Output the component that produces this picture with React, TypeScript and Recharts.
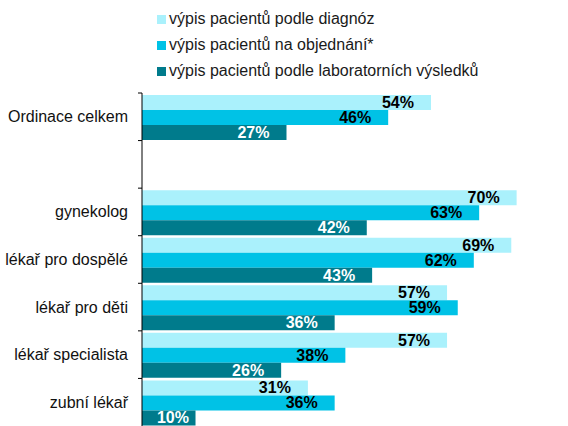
import React from 'react'
import { BarChart, Bar, XAxis, YAxis, Legend, LabelList } from 'recharts'

// categories (the empty one is the gap between "Ordinace celkem" and the specialties)
const categories = ['Ordinace celkem', '', 'gynekolog', 'lékař pro dospělé', 'lékař pro děti', 'lékař specialista', 'zubní lékař']
const podleDiagnoz = [54, null, 70, 69, 57, 57, 31]
const naObjednani = [46, null, 63, 62, 59, 38, 36]
const podleLaboratore = [27, null, 42, 43, 36, 26, 10]

const SERIES = [
  { key: 'diag', name: 'výpis pacientů podle diagnóz', color: '#aaf1fc', label: '#000' },
  { key: 'obj', name: 'výpis pacientů na objednání*', color: '#00c2e6', label: '#000' },
  { key: 'lab', name: 'výpis pacientů podle laboratorních výsledků', color: '#007b8c', label: '#fff' },
]

const data = categories.map((name, i) => ({
  name: name || ' ',
  diag: podleDiagnoz[i],
  obj: naObjednani[i],
  lab: podleLaboratore[i],
}))

const W = 568
const H = 426
const TOP = 93
const AXIS_X = 142
const BAND = (H - TOP) / categories.length
const FONT = '"Liberation Sans", Arial, sans-serif'

const CategoryTick = (props: any) => {
  const { x, y, payload } = props
  return (
    <g>
      <line x1={x - 4} x2={x} y1={y - BAND / 2} y2={y - BAND / 2} stroke="#000" />
      <text x={x - 14} y={y} dy={5.5} textAnchor="end" fontSize={16} fontFamily={FONT} fill="#111">
        {payload.value.trim()}
      </text>
    </g>
  )
}

const makeLabel = (fill: string) => (props: any) => {
  const { x, y, width, height, value } = props
  if (value == null) return null
  // labels sit 17px inside the bar end, but never closer than ~16px to the axis
  const right = Math.max(x + width - 17, x + 47)
  return (
    <text
      x={right}
      y={y + height / 2}
      dy={5.5}
      textAnchor="end"
      fontSize={16}
      fontWeight="bold"
      fontFamily={FONT}
      fill={fill}
    >
      {value}%
    </text>
  )
}

const LegendContent = () => (
  <div style={{ fontFamily: FONT, fontSize: 16, color: '#1a1a1a' }}>
    {SERIES.map((s) => (
      <div key={s.key} style={{ display: 'flex', alignItems: 'center', height: 26, whiteSpace: 'nowrap' }}>
        <span style={{ width: 9, height: 9, background: s.color, marginRight: 3, flexShrink: 0 }} />
        {s.name}
      </div>
    ))}
  </div>
)

export default function App() {
  return (
    <div style={{ position: 'fixed', left: 0, top: 0, width: W, height: H, overflow: 'hidden', background: '#fff' }}>
      <BarChart
        width={W}
        height={H}
        data={data}
        layout="vertical"
        margin={{ top: TOP, right: 0, bottom: 0, left: 0 }}
        barCategoryGap={2}
        barGap={0}
      >
        <XAxis
          type="number"
          orientation="top"
          domain={[0, 79.6]}
          height={0}
          tick={false}
          tickLine={false}
          axisLine={{ stroke: '#a6a6a6', strokeWidth: 2 }}
        />
        <YAxis
          type="category"
          dataKey="name"
          width={AXIS_X}
          interval={0}
          tickSize={0}
          tickMargin={0}
          tickLine={false}
          axisLine={{ stroke: '#000' }}
          tick={<CategoryTick />}
        />
        <Legend
          layout="vertical"
          align="center"
          verticalAlign="middle"
          content={<LegendContent />}
          wrapperStyle={{ top: 6, left: 157, width: 400 }}
        />
        {SERIES.map((s) => (
          <Bar key={s.key} dataKey={s.key} name={s.name} fill={s.color} isAnimationActive={false}>
            <LabelList dataKey={s.key} content={makeLabel(s.label)} />
          </Bar>
        ))}
      </BarChart>
    </div>
  )
}
